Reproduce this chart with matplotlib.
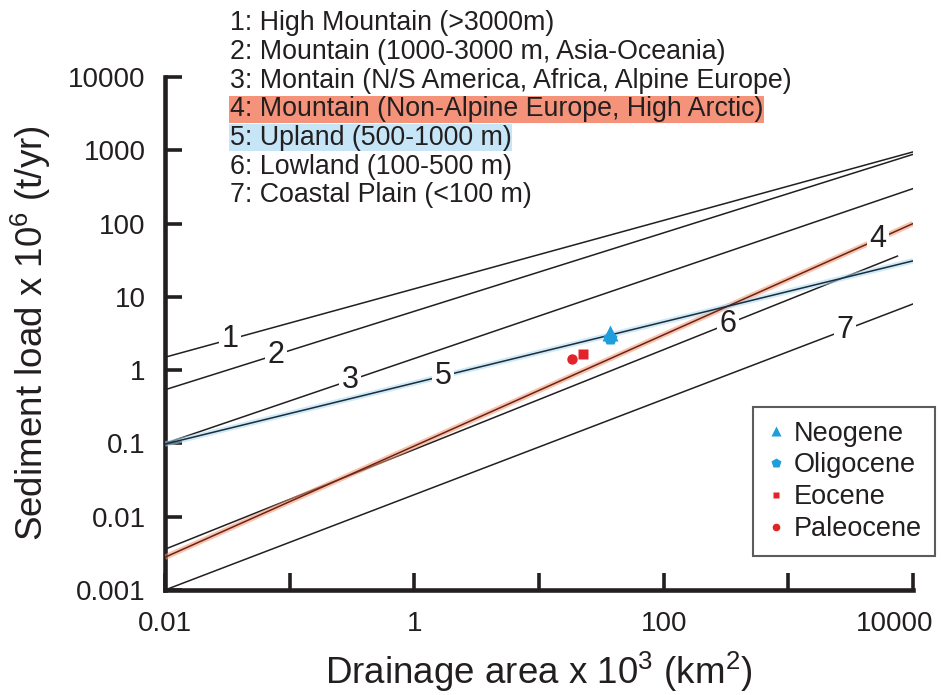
import numpy as np
import matplotlib.pyplot as plt
from matplotlib.lines import Line2D

plt.rcParams['font.family'] = ['Liberation Sans', 'DejaVu Sans']
plt.rcParams['mathtext.default'] = 'regular'

# ── Data ──────────────────────────────────────────────────────────────────────
zone_text = [
    "1: High Mountain (>3000m)",
    "2: Mountain (1000-3000 m, Asia-Oceania)",
    "3: Montain (N/S America, Africa, Alpine Europe)",
    "4: Mountain (Non-Alpine Europe, High Arctic)",
    "5: Upland (500-1000 m)",
    "6: Lowland (100-500 m)",
    "7: Coastal Plain (<100 m)",
]
zone_ids = ["1", "2", "3", "4", "5", "6", "7"]
# each relation drawn as a straight line in log-log space between two points
area_start = [0.01, 0.01, 0.01, 0.01, 0.01, 0.01, 0.01]
area_end = [10000, 10000, 10000, 10000, 10000, 7500, 10000]
load_start = [1.5, 0.54, 0.10, 0.0028, 0.098, 0.0036, 0.001]
load_end = [950, 880, 300, 100, 31, 36, 8]
label_area = [0.033, 0.078, 0.305, 5240, 1.7, 328, 2840]

epochs = ["Neogene", "Oligocene", "Eocene", "Paleocene"]
epoch_area = [37, 37, 22.5, 18.4]
epoch_load = [3.2, 2.75, 1.66, 1.42]
epoch_marker = ["^", "p", "s", "o"]
epoch_color = ["#1e9fdc", "#1e9fdc", "#e3232a", "#e3232a"]
epoch_size = [12, 11, 7, 7.5]
legend_size = [7, 7, 5, 5.5]

ink = "#231f20"
glow = {"4": "#f2936f", "5": "#a9d9f2"}
core = {"4": "#6b2412", "5": "#1c2b3a"}
highlight = {"4": "#f4937a", "5": "#c6e6f7"}


def line_at(i, a):
    return 10 ** np.interp(np.log10(a), np.log10([area_start[i], area_end[i]]),
                           np.log10([load_start[i], load_end[i]]))


fig = plt.figure(figsize=(9.41, 6.95), dpi=100)
ax = fig.add_axes([165 / 941, 1 - 590 / 695, 748 / 941, 513 / 695])
ax.set_xscale("log")
ax.set_yscale("log")
ax.set_xlim(0.01, 10000)
ax.set_ylim(0.001, 10000)

for i, zid in enumerate(zone_ids):
    xs = [area_start[i], area_end[i]]
    ys = [load_start[i], load_end[i]]
    if zid in glow:
        ax.plot(xs, ys, color=glow[zid], lw=4, alpha=0.55, zorder=4,
                solid_capstyle="butt")
        ax.plot(xs, ys, color=core[zid], lw=1.1, zorder=4.5)
        zt = 6
    else:
        ax.plot(xs, ys, color=ink, lw=1.1, zorder=2)
        zt = 3
    ax.text(label_area[i], line_at(i, label_area[i]), zid, fontsize=22,
            color=ink, ha="center", va="center", zorder=zt,
            bbox=dict(boxstyle="square,pad=0.08", fc="white", ec="none"))

for name, a, q, m, c, s in zip(epochs, epoch_area, epoch_load,
                               epoch_marker, epoch_color, epoch_size):
    ax.plot(a, q, marker=m, color=c, ms=s, ls="none", mec="none", zorder=7)

# axes styling
for side in ["top", "right"]:
    ax.spines[side].set_visible(False)
for side in ["left", "bottom"]:
    ax.spines[side].set_linewidth(3.3)
    ax.spines[side].set_color(ink)
ax.set_xticks([0.01, 0.1, 1, 10, 100, 1000, 10000])
ax.set_xticklabels(["0.01", "", "1", "", "100", "", ""])
ax.set_yticks([0.001, 0.01, 0.1, 1, 10, 100, 1000, 10000])
ax.set_yticklabels(["0.001", "0.01", "0.1", "1", "10", "100", "1000", "10000"])
ax.minorticks_off()
ax.tick_params(direction="in", length=12.5, width=2.6, color=ink,
               labelcolor=ink, labelsize=20, pad=14)
ax.tick_params(axis="x", pad=15)
ax.annotate("10000", xy=(10000, 0), xycoords=("data", "axes fraction"),
            xytext=(-13, -15), textcoords="offset points", ha="center",
            va="top", fontsize=20, color=ink)

ax.set_xlabel("Drainage area x 10$^3$ (km$^2$)", fontsize=26.5, color=ink,
              labelpad=9)
ax.set_ylabel("Sediment load x 10$^6$ (t/yr)", fontsize=26.5, color=ink,
              labelpad=11)

# zone list at the top
for i, txt in enumerate(zone_text):
    yc = 23.5 + 28.6 * i
    box = None
    if zone_ids[i] in highlight:
        box = dict(boxstyle="square,pad=0.02", fc=highlight[zone_ids[i]],
                   ec="none")
    fig.text(230 / 941, 1 - yc / 695, txt, fontsize=19.3, color=ink,
             ha="left", va="center", bbox=box)

handles = [Line2D([], [], marker=m, color=c, ms=s, ls="none", mec="none")
           for m, c, s in zip(epoch_marker, epoch_color, legend_size)]
leg = ax.legend(handles, epochs, loc="upper left",
                bbox_to_anchor=(753 / 941, 1 - 407 / 695),
                bbox_transform=fig.transFigure, frameon=True, fancybox=False,
                edgecolor="#333333", fontsize=19.5, borderpad=0.5,
                labelspacing=0.22, handlelength=0.7, handletextpad=0.3,
                borderaxespad=0)
leg.get_frame().set_linewidth(1.5)
for t in leg.get_texts():
    t.set_color(ink)

fig.savefig("out.png", dpi=100)
